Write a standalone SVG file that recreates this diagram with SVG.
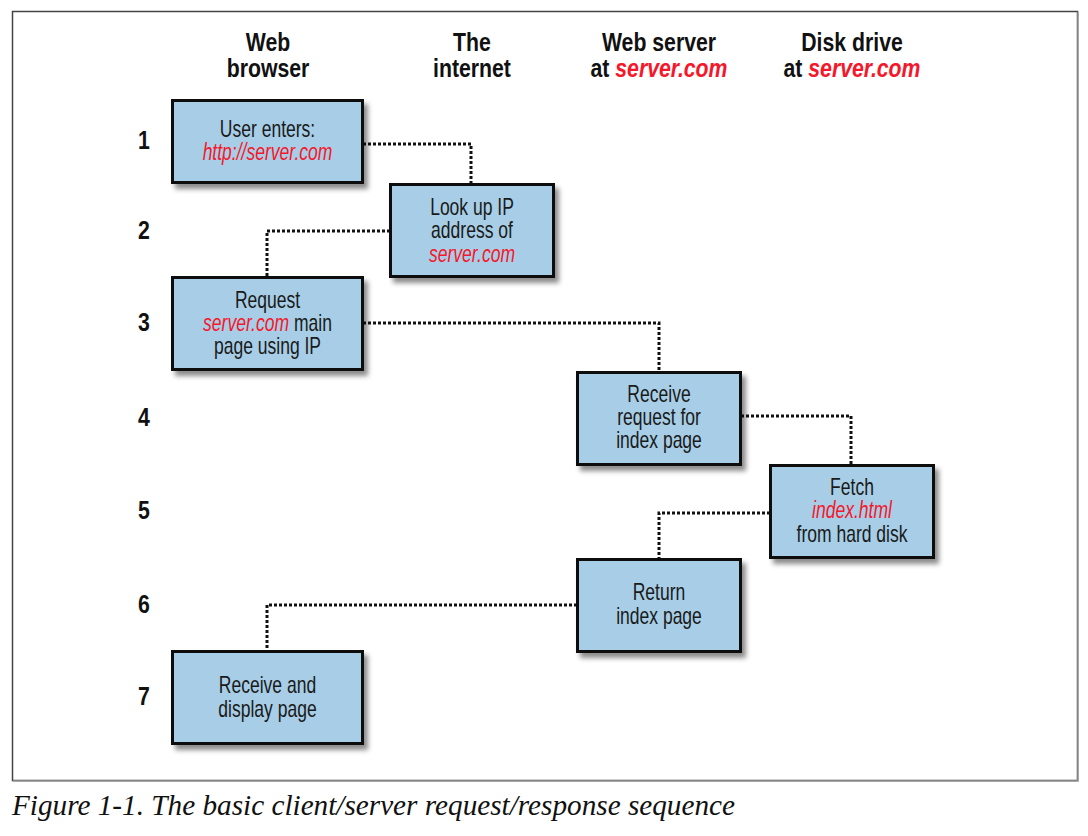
<svg xmlns="http://www.w3.org/2000/svg" width="1088" height="836" viewBox="0 0 1088 836">
<style>
.box{fill:#a7cee6;stroke:#111;stroke-width:3;filter:url(#sh)}
.t{font-family:"Liberation Sans",Arial,sans-serif;font-size:24px;fill:#1a1a1a;text-anchor:middle}
.h{font-family:"Liberation Sans",Arial,sans-serif;font-size:25px;font-weight:bold;fill:#111;text-anchor:middle}
.n{font-family:"Liberation Sans",Arial,sans-serif;font-size:25px;font-weight:bold;fill:#111;text-anchor:middle}
.r{fill:#f5172b;font-style:italic}
.con{fill:none;stroke:#111;stroke-width:3;stroke-dasharray:3 2}
.cap{font-family:"Liberation Serif","Times New Roman",serif;font-style:italic;font-size:30px;fill:#111}
</style>
<defs>
<filter id="sh" x="-10%" y="-10%" width="130%" height="140%">
<feDropShadow dx="4" dy="5" stdDeviation="2.5" flood-color="#000" flood-opacity="0.45"/>
</filter>
</defs>
<rect width="1088" height="836" fill="#fff"/>
<rect x="12.5" y="11.5" width="1065" height="769" fill="none" stroke="#444" stroke-width="1.5"/>
<path d="M1078,12 V781 H13" fill="none" stroke="#999" stroke-width="1.5"/>

<g id="headers">
<g transform="translate(268 0) scale(0.85 1)"><text class="h" y="51">Web</text><text class="h" y="77">browser</text></g>
<g transform="translate(472 0) scale(0.85 1)"><text class="h" y="51">The</text><text class="h" y="77">internet</text></g>
<g transform="translate(659 0) scale(0.85 1)"><text class="h" y="51">Web server</text><text class="h" y="77">at <tspan class="r">server.com</tspan></text></g>
<g transform="translate(852 0) scale(0.85 1)"><text class="h" y="51">Disk drive</text><text class="h" y="77">at <tspan class="r">server.com</tspan></text></g>
</g>

<g id="rows">
<g transform="translate(144 0) scale(0.85 1)">
<text class="n" y="149">1</text>
<text class="n" y="239">2</text>
<text class="n" y="331">3</text>
<text class="n" y="426">4</text>
<text class="n" y="519">5</text>
<text class="n" y="613">6</text>
<text class="n" y="705">7</text>
</g>
</g>

<g id="connectors">
<path class="con" d="M363,144 H471 V184"/>
<path class="con" d="M390,231 H267 V276"/>
<path class="con" d="M363,323 H659 V372"/>
<path class="con" d="M741,416 H851 V464"/>
<path class="con" d="M770,513 H659 V558"/>
<path class="con" d="M577,605 H267 V651"/>
</g>

<g id="n1">
<rect class="box" x="172.5" y="100.5" width="190" height="82"/>
<g transform="translate(267.5 0) scale(0.73 1)"><text class="t" y="137">User enters:</text><text class="t" y="160"><tspan class="r">http://server.com</tspan></text></g>
</g>
<g id="n2">
<rect class="box" x="390.5" y="184.5" width="163" height="92"/>
<g transform="translate(472 0) scale(0.73 1)"><text class="t" y="215">Look up IP</text><text class="t" y="238">address of</text><text class="t" y="262"><tspan class="r">server.com</tspan></text></g>
</g>
<g id="n3">
<rect class="box" x="172.5" y="277.5" width="190" height="92"/>
<g transform="translate(267.5 0) scale(0.73 1)"><text class="t" y="308">Request</text><text class="t" y="331"><tspan class="r">server.com</tspan> main</text><text class="t" y="354">page using IP</text></g>
</g>
<g id="n4">
<rect class="box" x="577.5" y="372.5" width="163" height="92"/>
<g transform="translate(659 0) scale(0.73 1)"><text class="t" y="402">Receive</text><text class="t" y="425">request for</text><text class="t" y="448">index page</text></g>
</g>
<g id="n5">
<rect class="box" x="770.5" y="465.5" width="163" height="92"/>
<g transform="translate(852 0) scale(0.73 1)"><text class="t" y="495">Fetch</text><text class="t" y="518"><tspan class="r">index.html</tspan></text><text class="t" y="542">from hard disk</text></g>
</g>
<g id="n6">
<rect class="box" x="577.5" y="559.5" width="163" height="92"/>
<g transform="translate(659 0) scale(0.73 1)"><text class="t" y="600">Return</text><text class="t" y="624">index page</text></g>
</g>
<g id="n7">
<rect class="box" x="172.5" y="651.5" width="190" height="92"/>
<g transform="translate(267.5 0) scale(0.73 1)"><text class="t" y="693">Receive and</text><text class="t" y="717">display page</text></g>
</g>

<text class="cap" x="12" y="815" textLength="723" lengthAdjust="spacingAndGlyphs">Figure 1-1. The basic client/server request/response sequence</text>
</svg>
